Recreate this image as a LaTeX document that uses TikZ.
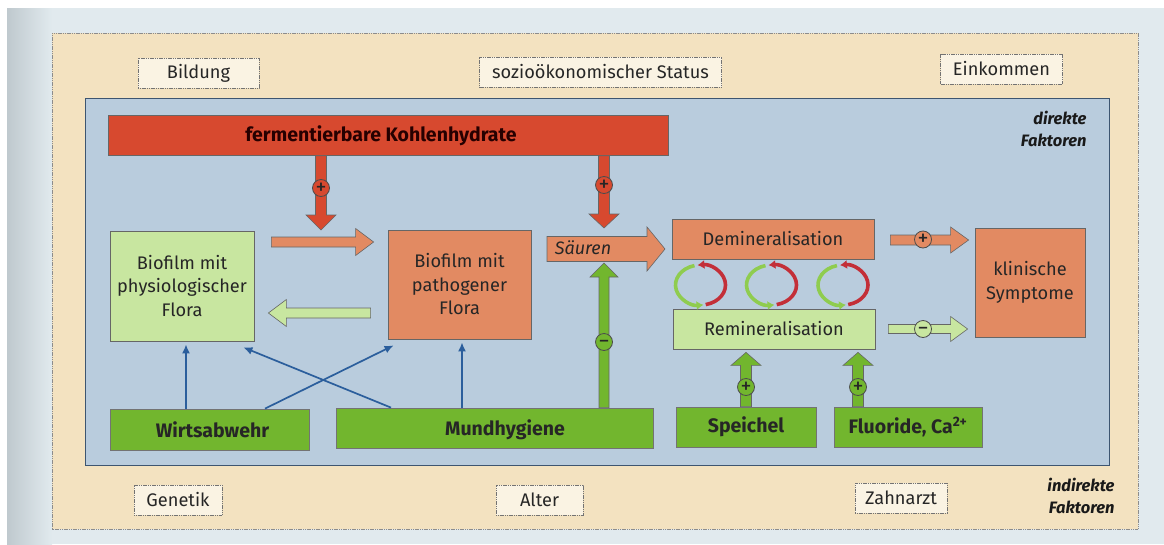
\documentclass[tikz,border=0pt]{standalone}
\usepackage{fontspec}
\setmainfont{Fira Sans}
\usetikzlibrary{arrows.meta,calc}
\definecolor{pagebg}{HTML}{E1EAEE}
\definecolor{shadowgray}{HTML}{BFC9CE}
\definecolor{beige}{HTML}{F3E2C0}
\definecolor{innerblue}{HTML}{B9CCDD}
\definecolor{frameblue}{HTML}{3D5570}
\definecolor{khred}{HTML}{D7492F}
\definecolor{salmon}{HTML}{E28A62}
\definecolor{lgreen}{HTML}{C8E6A0}
\definecolor{dgreen}{HTML}{72B62E}
\definecolor{arrblue}{HTML}{2B5E9C}
\definecolor{arcred}{HTML}{C32F38}
\definecolor{arcgreen}{HTML}{8FCC4F}
\definecolor{tagfill}{HTML}{FAF3E3}
\definecolor{txt}{HTML}{262626}
\newcommand\blockarrow[6]{%
  \path[#1] let \p1=#2, \p2=#3,
    \n1={atan2(\y2-\y1,\x2-\x1)}, \n2={veclen(\x2-\x1,\y2-\y1)} in
    [shift={(\p1)}, rotate=\n1]
    (0pt,-#4pt) -- ({\n2-#6pt},-#4pt) -- ({\n2-#6pt},-#5pt) -- ({\n2-0pt},0pt)
    -- ({\n2-#6pt},#5pt) -- ({\n2-#6pt},#4pt) -- (0pt,#4pt) -- cycle;}
\newcommand\cyclepair[1]{%
  \draw[arcred, line width=3.6pt, -{Latex[length=7pt,width=9pt]}]
    ($(#1)+(-78:25pt and 20pt)$) arc[start angle=-78, end angle=97, x radius=25pt, y radius=20pt];
  \draw[arcgreen, line width=3.6pt, -{Latex[length=7pt,width=9pt]}]
    ($(#1)+(104:25pt and 20pt)$) arc[start angle=104, end angle=277, x radius=25pt, y radius=20pt];}
\newcommand\pmsign[1]{\smash{\makebox[0pt]{\raisebox{-6pt}{#1}}}}
\begin{document}
\begin{tikzpicture}[x=1pt,y=-1pt,
  every node/.style={text=txt, font=\fontsize{18.2}{22}\selectfont},
  tag/.style={draw=black!55, line width=0.6pt, dash pattern=on 1.2pt off 0.6pt, fill=tagfill, minimum height=30pt, inner sep=0pt},
  flowbox/.style={draw=black!60, line width=0.8pt, align=center, inner sep=0pt},
  bigbox/.style={flowbox, font=\fontsize{18.2}{23.5}\selectfont},
  greenbox/.style={flowbox, fill=dgreen, draw=black!55, minimum height=40pt, font=\bfseries\fontsize{19.5}{22}\selectfont},
  boldlbl/.style={text=txt, font=\bfseries\fontsize{19.5}{22}\selectfont},
  corner/.style={align=right, font=\bfseries\itshape\fontsize{16.5}{22}\selectfont, text=black!90},
  redarrow/.style={fill=khred, draw=black!60, line width=0.6pt},
  salarrow/.style={fill=salmon, draw=black!60, line width=0.6pt},
  lgarrow/.style={fill=lgreen, draw=black!60, line width=0.6pt},
  dgarrow/.style={fill=dgreen, draw=black!60, line width=0.6pt},
  pmc/.style={circle, draw=black!70, line width=0.8pt, minimum size=17pt, inner sep=0pt, font=\fontsize{22}{22}\selectfont},
  barr/.style={draw=arrblue, line width=1.7pt, -{Latex[length=9pt,width=8pt]}}
]
\useasboundingbox (0,0) rectangle (1164,544);
% page background
\fill[pagebg] (0,0) rectangle (1164,544);
\fill[white] (0,0) rectangle (1164,8);
\fill[white] (0,0) rectangle (7,544);
\shade[left color=shadowgray, right color=pagebg] (7,8) rectangle (52,544);
% frames
\draw[fill=beige, draw=black!45, line width=0.7pt, dash pattern=on 1.2pt off 0.6pt] (52,33) rectangle (1138,529);
\draw[fill=innerblue, draw=frameblue, line width=1pt] (85,98) rectangle (1109,465);

% indirect factors
\node[tag, minimum width=121pt] (bildung) at (198.5,73) {Bildung};
\node[tag, minimum width=242pt] (sozio) at (600.5,72) {sozioökonomischer Status};
\node[tag, minimum width=122pt] (eink) at (1001.5,69) {Einkommen};
\node[tag, minimum width=88pt] (genetik) at (178,500) {Genetik};
\node[tag, minimum width=87pt] (alter) at (539.5,500) {Alter};
\node[tag, minimum width=92pt] (zahnarzt) at (901,498) {Zahnarzt};
\node[corner, anchor=north east] (direkt) at (1090,108) {direkte\\Faktoren};
\node[corner, anchor=north east] (indirekt) at (1118,475) {indirekte\\\hspace*{6pt}Faktoren};

% direct factors
\node[flowbox, fill=khred, minimum width=560pt, minimum height=40pt] (kh) at (388,135.5) {};
\node[boldlbl, text=black!85!red] (khtext) at (381,136) {fermentierbare Kohlenhydrate};

\node[bigbox, fill=lgreen, minimum width=144pt, minimum height=110pt] (phys) at (182,286) {Biofilm mit\\physiologischer\\Flora};
\node[bigbox, fill=salmon, minimum width=143pt, minimum height=109pt] (path) at (459.5,284.5) {Biofilm mit\\pathogener\\Flora};
\node[bigbox, fill=salmon, minimum width=110pt, minimum height=109pt] (klin) at (1030,282.5) {klinische\\Symptome};
\node[flowbox, fill=salmon, minimum width=202pt, minimum height=40pt] (demin) at (773,239) {Demineralisation};
\node[flowbox, fill=lgreen, minimum width=202pt, minimum height=40pt] (remin) at (774,329) {Remineralisation};

\node[greenbox, minimum width=199pt, minimum height=41pt] (wirt) at (209.5,429.5) {\hspace*{6pt}Wirtsabwehr};
\node[greenbox, minimum width=317pt] (mund) at (494.5,428) {};
\node[boldlbl] (mundtext) at (505,430) {Mundhygiene};
\node[greenbox, minimum width=140pt] (speichel) at (746,427) {Speichel};
\node[greenbox, minimum width=148pt] (fluor) at (908,427) {Fluoride, Ca\textsuperscript{2+}};

% column and row guides
\coordinate (cA) at (321,0);
\coordinate (cB) at (604,0);
\coordinate (cC) at (746,0);
\coordinate (cD) at (858,0);
\coordinate (r1) at (0,242);
\coordinate (r2) at (0,313);
\coordinate (r3) at (0,240);
\coordinate (r4) at (0,329);
\coordinate (tipA) at (321,230);
\coordinate (tipB) at (604,228);
\coordinate (sTail) at (547,249);
\coordinate (sTip) at (665,249);
\coordinate (sBottom) at (604,263);

% red arrows from carbohydrates
\blockarrow{redarrow}{(kh.south -| cA)}{(tipA)}{5.5}{15}{15}
\blockarrow{redarrow}{(kh.south -| cB)}{(tipB)}{5.5}{15}{14}
\node[pmc, fill=khred] (pA) at (321,188) {\pmsign{+}};
\node[pmc, fill=khred] (pB) at (604,185) {\pmsign{+}};

% biofilm shift arrows
\blockarrow{salarrow}{($(phys.east |- r1)+(17,0)$)}{($(path.west |- r1)+(-14,0)$)}{5}{13.5}{18}
\blockarrow{lgarrow}{($(path.west |- r2)+(-17,0)$)}{($(phys.east |- r2)+(14,0)$)}{5}{13.5}{18}

% acids
\blockarrow{salarrow}{(sTail)}{(sTip)}{12.5}{22}{18}
\node[font=\itshape\fontsize{18}{22}\selectfont] (saeuren) at (583,248) {Säuren};
\blockarrow{dgarrow}{(mund.north -| cB)}{(sBottom)}{5}{14}{14}
\node[pmc, fill=dgreen] (pC) at (604,342) {\pmsign{−}};

% to clinical symptoms
\blockarrow{salarrow}{($(demin.east |- r3)+(16,0)$)}{($(klin.west |- r3)+(-6,0)$)}{5}{13}{18}
\node[pmc, fill=salmon] (pD) at (923,239.5) {\pmsign{+}};
\blockarrow{lgarrow}{($(remin.east |- r4)+(13,0)$)}{($(klin.west |- r4)+(-7,0)$)}{4.5}{12.5}{17}
\node[pmc, fill=lgreen] (pE) at (923,329) {\pmsign{−}};

% saliva and fluoride
\blockarrow{dgarrow}{(speichel.north -| cC)}{($(remin.south -| cC)+(0,3)$)}{5.5}{15}{13}
\node[pmc, fill=dgreen] (pF) at (746,387) {\pmsign{+}};
\blockarrow{dgarrow}{(fluor.north -| cD)}{($(remin.south -| cD)+(0,3)$)}{5.5}{15}{13}
\node[pmc, fill=dgreen] (pG) at (858,387) {\pmsign{+}};

% de-/remineralisation cycles
\coordinate (cy1) at (700.5,285);
\coordinate (cy2) at (771.5,285);
\coordinate (cy3) at (843,285);
\cyclepair{cy1}
\cyclepair{cy2}
\cyclepair{cy3}

% blue influence arrows
\coordinate (bW) at (186,0);
\coordinate (bM) at (462,0);
\draw[barr] (wirt.north -| bW) -- ($(phys.south -| bW)+(0,3)$);
\draw[barr] (mund.north -| bM) -- ($(path.south -| bM)+(0,3)$);
\draw[barr] (wirt.north -| 265,0) -- ($(path.south west)+(6,6)$);
\draw[barr] (mund.north -| 391,0) -- ($(phys.south east)+(-11,6)$);
\end{tikzpicture}
\end{document}
